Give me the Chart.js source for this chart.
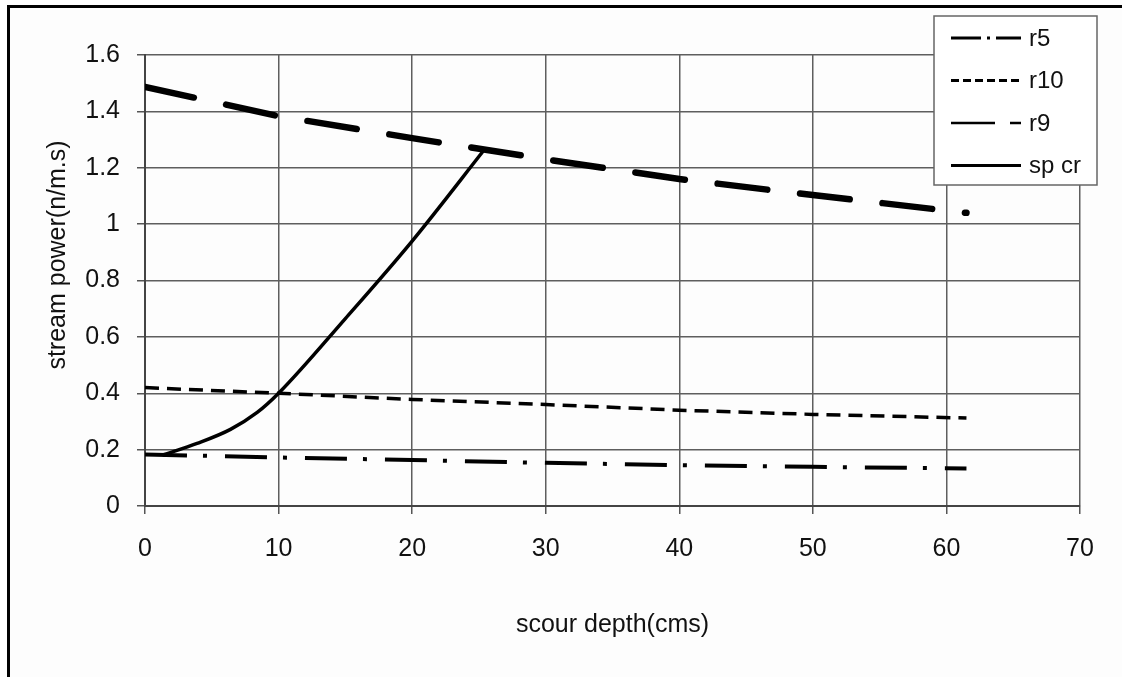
<!DOCTYPE html>
<html>
<head>
<meta charset="utf-8">
<script src="https://cdn.jsdelivr.net/npm/chart.js@4/dist/chart.umd.min.js"></script>
<style>
  html, body { margin: 0; padding: 0; background: #fdfdfd; }
  #wrap { width: 1122px; height: 677px; position: relative; }
</style>
</head>
<body>
<div id="wrap"><canvas id="chart" width="1122" height="677"></canvas></div>
<script>
// scour depth (cms)
const depths = [0, 10, 20, 30, 40, 50, 61.5];
const r5 = [0.183, 0.172, 0.163, 0.153, 0.145, 0.139, 0.133];
const r10 = [0.42, 0.40, 0.378, 0.36, 0.34, 0.325, 0.312];
const r9 = [1.487, 1.383, 1.305, 1.23, 1.16, 1.103, 1.04];

// critical stream power curve
const spDepths = [1.3, 3.9, 6.4, 8.4, 10, 15, 20, 25.5];
const spCr = [0.18, 0.222, 0.272, 0.332, 0.40, 0.665, 0.94, 1.27];

const xTicks = [0, 10, 20, 30, 40, 50, 60, 70];
const yTicks = [0, 0.2, 0.4, 0.6, 0.8, 1, 1.2, 1.4, 1.6];

const toPoints = (xs, ys) => xs.map((x, i) => ({ x: x, y: ys[i] }));

const legendItems = [
  { label: 'r5', dash: [30, 6, 3, 6], width: 3 },
  { label: 'r10', dash: [8, 4], width: 3 },
  { label: 'r9', dash: [44, 15, 11, 100], width: 2.5 },
  { label: 'sp cr', dash: [], width: 3 }
];

const FONT = '"Liberation Sans", Arial, sans-serif';

const frameAndLegend = {
  id: 'frameAndLegend',
  beforeDraw(chart) {
    const ctx = chart.ctx;
    ctx.save();
    ctx.fillStyle = '#fdfdfd';
    ctx.fillRect(0, 0, chart.width, chart.height);
    ctx.fillStyle = '#000';
    ctx.fillRect(7, 5, 3, chart.height - 5);
    ctx.fillRect(7, 5, chart.width - 7, 3);
    ctx.restore();
  },
  afterDraw(chart) {
    const ctx = chart.ctx;
    ctx.save();
    // y axis title
    ctx.fillStyle = '#111';
    ctx.font = '25px ' + FONT;
    ctx.textAlign = 'center';
    ctx.textBaseline = 'middle';
    ctx.translate(58, 255);
    ctx.rotate(-Math.PI / 2);
    ctx.fillText('stream power(n/m.s)', 0, 0);
    ctx.restore();

    // legend box
    ctx.save();
    ctx.fillStyle = '#fff';
    ctx.fillRect(934, 16, 163, 169);
    ctx.strokeStyle = '#666';
    ctx.lineWidth = 1.5;
    ctx.strokeRect(934, 16, 163, 169);
    ctx.font = '24px ' + FONT;
    ctx.textBaseline = 'middle';
    ctx.textAlign = 'left';
    legendItems.forEach((item, i) => {
      const y = 38 + i * 42.5;
      ctx.strokeStyle = '#000';
      ctx.lineWidth = item.width;
      ctx.setLineDash(item.dash);
      ctx.beginPath();
      ctx.moveTo(951, y);
      ctx.lineTo(1021, y);
      ctx.stroke();
      ctx.setLineDash([]);
      ctx.fillStyle = '#111';
      ctx.fillText(item.label, 1029, y + 1);
    });
    ctx.restore();
  }
};

new Chart(document.getElementById('chart'), {
  type: 'line',
  data: {
    datasets: [
      {
        label: 'r5',
        data: toPoints(depths, r5),
        borderColor: '#000',
        borderWidth: 4,
        borderDash: [42, 16, 4, 18],
        pointRadius: 0,
        tension: 0
      },
      {
        label: 'r10',
        data: toPoints(depths, r10),
        borderColor: '#000',
        borderWidth: 3.5,
        borderDash: [14, 8],
        pointRadius: 0,
        tension: 0
      },
      {
        label: 'r9',
        data: toPoints(depths, r9),
        borderColor: '#000',
        borderWidth: 6.5,
        borderDash: [50, 33],
        borderCapStyle: 'round',
        pointRadius: 0,
        tension: 0
      },
      {
        label: 'sp cr',
        data: toPoints(spDepths, spCr),
        borderColor: '#000',
        borderWidth: 3.5,
        pointRadius: 0,
        cubicInterpolationMode: 'monotone'
      }
    ]
  },
  options: {
    responsive: false,
    animation: false,
    layout: { padding: { top: 55, right: 42, left: 0, bottom: 0 } },
    plugins: {
      legend: { display: false },
      tooltip: { enabled: false }
    },
    scales: {
      x: {
        type: 'linear',
        min: 0,
        max: 70,
        afterBuildTicks: s => { s.ticks = xTicks.map(v => ({ value: v })); },
        afterFit: s => { s.height = 171; },
        grid: { color: '#5e5e5e', lineWidth: 1.5, tickLength: 8, tickColor: '#555' },
        border: { color: '#444', width: 2 },
        ticks: { color: '#111', padding: 20, font: { family: FONT, size: 25 }, maxRotation: 0 },
        title: {
          display: true,
          text: 'scour depth(cms)',
          color: '#111',
          font: { family: FONT, size: 25 },
          padding: { top: 14, bottom: 37 }
        }
      },
      y: {
        min: 0,
        max: 1.6,
        afterBuildTicks: s => { s.ticks = yTicks.map(v => ({ value: v })); },
        afterFit: s => { s.width = 145; },
        grid: { color: '#5e5e5e', lineWidth: 1.5, tickLength: 8, tickColor: '#555' },
        border: { color: '#444', width: 2 },
        ticks: {
          color: '#111',
          padding: 17,
          font: { family: FONT, size: 25 },
          callback: v => String(+v.toFixed(1))
        }
      }
    }
  },
  plugins: [frameAndLegend]
});
</script>
</body>
</html>
